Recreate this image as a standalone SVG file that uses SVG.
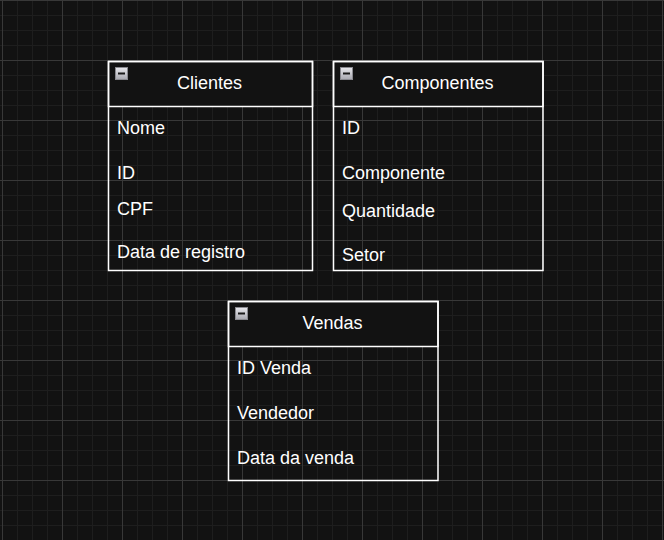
<svg xmlns="http://www.w3.org/2000/svg" width="664" height="540" viewBox="0 0 664 540">
  <defs>
    <pattern id="minor" patternUnits="userSpaceOnUse" x="2" y="0" width="15" height="15">
      <path d="M0.5 0V15M0 0.5H15" stroke="#1e1e1e" stroke-width="1" fill="none"/>
    </pattern>
    <pattern id="major" patternUnits="userSpaceOnUse" x="2" y="0" width="60" height="60">
      <path d="M0.5 0V60M0 0.5H60" stroke="#383838" stroke-width="1" fill="none"/>
    </pattern>
    <linearGradient id="iconGrad" x1="0" y1="0" x2="0" y2="1">
      <stop offset="0" stop-color="#e8e8ec"/>
      <stop offset="1" stop-color="#a8a8b0"/>
    </linearGradient>
    <g id="collapse">
      <rect x="0.5" y="0.5" width="12" height="12" fill="url(#iconGrad)" stroke="#8a8a90" stroke-width="1"/>
      <rect x="3" y="5.5" width="7" height="2" fill="#1a1a1a"/>
    </g>
  </defs>
  <style>
    .box { fill: none; stroke: #ffffff; stroke-width: 1.5; }
    .head { fill: #121212; stroke: #ffffff; stroke-width: 1.5; }
    .title { font-family: "Liberation Sans", Arial, sans-serif; font-size: 18px; fill: #ffffff; text-anchor: middle; }
    .row { font-family: "Liberation Sans", Arial, sans-serif; font-size: 18px; fill: #ffffff; }
  </style>
  <rect width="664" height="540" fill="#121212"/>
  <rect width="664" height="540" fill="url(#minor)"/>
  <rect width="664" height="540" fill="url(#major)"/>

  <g id="connectors"></g>

  <g id="clientes">
    <rect class="head" x="108.5" y="61.5" width="204" height="45"/>
    <rect class="box" x="108.5" y="61.5" width="204" height="209"/>
    <use href="#collapse" x="115" y="67"/>
    <text class="title" x="209.5" y="89">Clientes</text>
    <text class="row" x="117" y="134">Nome</text>
    <text class="row" x="117" y="179">ID</text>
    <text class="row" x="117" y="215">CPF</text>
    <text class="row" x="117" y="258">Data de registro</text>
  </g>

  <g id="componentes">
    <rect class="head" x="333.5" y="61.5" width="209.5" height="45"/>
    <rect class="box" x="333.5" y="61.5" width="209.5" height="209"/>
    <use href="#collapse" x="340" y="67"/>
    <text class="title" x="437.5" y="89">Componentes</text>
    <text class="row" x="342" y="134">ID</text>
    <text class="row" x="342" y="179">Componente</text>
    <text class="row" x="342" y="217">Quantidade</text>
    <text class="row" x="342" y="261">Setor</text>
  </g>

  <g id="vendas">
    <rect class="head" x="228.5" y="301.5" width="209.5" height="45"/>
    <rect class="box" x="228.5" y="301.5" width="209.5" height="179"/>
    <use href="#collapse" x="235" y="307"/>
    <text class="title" x="332.5" y="329">Vendas</text>
    <text class="row" x="237" y="374">ID Venda</text>
    <text class="row" x="237" y="419">Vendedor</text>
    <text class="row" x="237" y="464">Data da venda</text>
  </g>
</svg>
